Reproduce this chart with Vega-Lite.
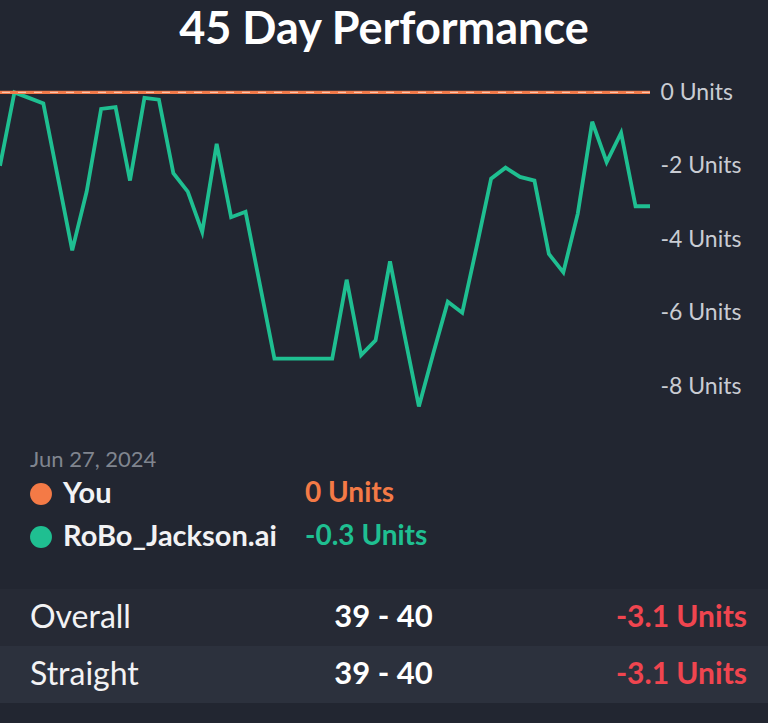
{
  "$schema": "https://vega.github.io/schema/vega-lite/v6.json",
  "background": "#222631",
  "padding": {"left": 0, "right": 0, "top": 8, "bottom": 21},
  "title": {"text": "45 Day Performance", "fontSize": 45, "font": "Lato", "fontWeight": "bold", "color": "#ffffff", "anchor": "middle", "offset": 21},
  "config": {"view": {"stroke": null}, "font": "Lato"},
  "spacing": 0,
  "resolve": {"scale": {"color": "independent", "x": "independent", "y": "independent"}},
  "vconcat": [
    {
      "width": 650,
      "height": 349,
      "layer": [
        {
          "data": {"values": [
            {"day": 0, "units": -2.0}, {"day": 1, "units": 0.0}, {"day": 2, "units": -0.15}, {"day": 3, "units": -0.3},
            {"day": 4, "units": -2.3}, {"day": 5, "units": -4.3}, {"day": 6, "units": -2.7}, {"day": 7, "units": -0.45},
            {"day": 8, "units": -0.4}, {"day": 9, "units": -2.4}, {"day": 10, "units": -0.15}, {"day": 11, "units": -0.2},
            {"day": 12, "units": -2.2}, {"day": 13, "units": -2.7}, {"day": 14, "units": -3.8}, {"day": 15, "units": -1.4},
            {"day": 16, "units": -3.4}, {"day": 17, "units": -3.25}, {"day": 18, "units": -5.25}, {"day": 19, "units": -7.25},
            {"day": 20, "units": -7.25}, {"day": 21, "units": -7.25}, {"day": 22, "units": -7.25}, {"day": 23, "units": -7.25},
            {"day": 24, "units": -5.1}, {"day": 25, "units": -7.15}, {"day": 26, "units": -6.75}, {"day": 27, "units": -4.6},
            {"day": 28, "units": -6.6}, {"day": 29, "units": -8.55}, {"day": 30, "units": -7.1}, {"day": 31, "units": -5.7},
            {"day": 32, "units": -6.0}, {"day": 33, "units": -4.2}, {"day": 34, "units": -2.35}, {"day": 35, "units": -2.05},
            {"day": 36, "units": -2.3}, {"day": 37, "units": -2.4}, {"day": 38, "units": -4.4}, {"day": 39, "units": -4.9},
            {"day": 40, "units": -3.3}, {"day": 41, "units": -0.8}, {"day": 42, "units": -1.9}, {"day": 43, "units": -1.1},
            {"day": 44, "units": -3.1}, {"day": 45, "units": -3.1}
          ]},
          "mark": {"type": "line", "color": "#1fbf91", "strokeWidth": 3.8, "clip": true},
          "encoding": {
            "x": {"field": "day", "type": "quantitative", "scale": {"domain": [0, 45], "nice": false, "zero": false}, "axis": null},
            "y": {"field": "units", "type": "quantitative", "scale": {"domain": [-9, 0.5], "nice": false, "zero": false},
              "axis": {"orient": "right", "values": [0, -2, -4, -6, -8], "labelExpr": "datum.value + ' Units'", "grid": false, "domain": false, "ticks": false, "labelFontSize": 23, "labelColor": "#c9ccd3", "labelPadding": 10, "title": null, "labelFont": "Lato"}}
          }
        },
        {
          "data": {"values": [{"series": "You", "units": 0}]},
          "mark": {"type": "rule", "color": "#f07a4a", "strokeWidth": 3.2, "clip": true},
          "encoding": {"y": {"field": "units", "type": "quantitative"}}
        },
        {
          "data": {"values": [{"series": "You", "units": 0}]},
          "mark": {"type": "rule", "color": "#f9c3aa", "strokeWidth": 1.2, "strokeDash": [8, 8], "clip": true},
          "encoding": {"y": {"field": "units", "type": "quantitative"}}
        }
      ]
    },
    {
      "width": 768,
      "height": 166,
      "layer": [
        {
          "data": {"values": [{"date": "Jun 27, 2024"}]},
          "mark": {"type": "text", "align": "left", "baseline": "middle", "fontSize": 22, "color": "#80858f", "dy": -34, "dx": -33},
          "encoding": {
            "x": {"datum": "name", "type": "nominal", "scale": {"type": "point", "domain": ["name", "value"], "range": [63, 305], "padding": 0}, "axis": null},
            "y": {"datum": "You", "type": "nominal", "scale": {"type": "point", "domain": ["You", "RoBo_Jackson.ai"], "range": [71, 114], "padding": 0}, "axis": null},
            "text": {"field": "date"}
          }
        },
        {
          "data": {"values": [{"series": "You", "value": "0 Units"}, {"series": "RoBo_Jackson.ai", "value": "-0.3 Units"}]},
          "mark": {"type": "circle", "size": 480, "opacity": 1, "xOffset": -22},
          "encoding": {
            "x": {"datum": "name", "type": "nominal"},
            "y": {"field": "series", "type": "nominal"},
            "color": {"field": "series", "type": "nominal", "scale": {"domain": ["You", "RoBo_Jackson.ai"], "range": ["#f47a46", "#1fbf91"]}, "legend": null}
          }
        },
        {
          "data": {"values": [{"series": "You", "value": "0 Units"}, {"series": "RoBo_Jackson.ai", "value": "-0.3 Units"}]},
          "mark": {"type": "text", "align": "left", "baseline": "middle", "fontSize": 29, "fontWeight": "bold", "color": "#f2f2f4"},
          "encoding": {
            "x": {"datum": "name", "type": "nominal"},
            "y": {"field": "series", "type": "nominal"},
            "text": {"field": "series"}
          }
        },
        {
          "data": {"values": [{"series": "You", "value": "0 Units"}, {"series": "RoBo_Jackson.ai", "value": "-0.3 Units"}]},
          "mark": {"type": "text", "align": "left", "baseline": "middle", "fontSize": 28, "fontWeight": "bold"},
          "encoding": {
            "x": {"datum": "value", "type": "nominal"},
            "y": {"field": "series", "type": "nominal"},
            "text": {"field": "value"},
            "color": {"field": "series", "type": "nominal", "legend": null}
          }
        }
      ]
    },
    {
      "width": 768,
      "height": 114,
      "data": {"values": [
        {"row": "Overall", "record": "39 - 40", "units": "-3.1 Units"},
        {"row": "Straight", "record": "39 - 40", "units": "-3.1 Units"}
      ]},
      "encoding": {"y": {"field": "row", "type": "nominal", "scale": {"type": "band", "domain": ["Overall", "Straight"], "paddingInner": 0, "paddingOuter": 0}, "axis": null}},
      "layer": [
        {
          "mark": {"type": "bar"},
          "encoding": {"color": {"field": "row", "type": "nominal", "scale": {"domain": ["Overall", "Straight"], "range": ["#262a35", "#2c313d"]}, "legend": null}}
        },
        {
          "mark": {"type": "text", "align": "left", "baseline": "middle", "fontSize": 32, "color": "#f2f2f4"},
          "encoding": {
            "x": {"datum": "row", "type": "nominal", "scale": {"type": "point", "domain": ["row", "record", "units"], "range": [30, 747], "padding": 0}, "axis": null},
            "text": {"field": "row"}
          }
        },
        {
          "mark": {"type": "text", "align": "center", "baseline": "middle", "fontSize": 31, "fontWeight": "bold", "color": "#ffffff", "dx": -5},
          "encoding": {
            "x": {"datum": "record", "type": "nominal"},
            "text": {"field": "record"}
          }
        },
        {
          "mark": {"type": "text", "align": "right", "baseline": "middle", "fontSize": 30, "fontWeight": "bold", "color": "#f0454f"},
          "encoding": {
            "x": {"datum": "units", "type": "nominal"},
            "text": {"field": "units"}
          }
        }
      ]
    }
  ]
}
